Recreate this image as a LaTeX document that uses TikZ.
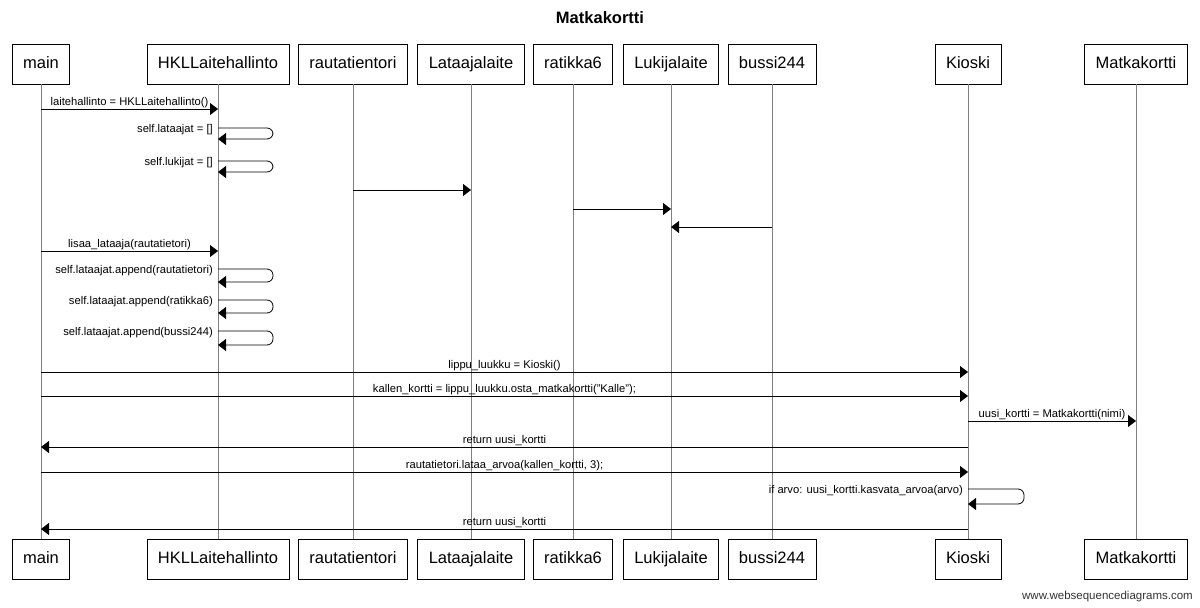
\documentclass[tikz,border=0pt]{standalone}
\usepackage{fontspec}
\setmainfont{Liberation Sans}
\usetikzlibrary{arrows.meta}
\begin{document}
\begin{tikzpicture}[x=1pt,y=-1pt,
  actor/.style={draw=black,line width=0.8pt,fill=white,minimum height=40pt,inner xsep=11pt,
    text height=12pt,text depth=3.5pt,font=\fontsize{16.5}{19}\selectfont},
  lifeline/.style={draw=black!50,line width=0.9pt},
  msg/.style={draw=black,line width=0.8pt,-{Triangle[length=8pt,width=12pt]}},
  lbl/.style={font=\fontsize{11.2}{13}\selectfont,inner sep=1pt},
  selfmsg/.style={msg,rounded corners=6pt}]
\useasboundingbox (0,0) rectangle (1200,608);

% title
\node[font=\fontsize{16.5}{19}\selectfont\bfseries] (title) at (600,18) {Matkakortti};

% participants, top and bottom
\foreach \n/\t/\x in {main/main/41,hkl/HKLLaitehallinto/218,rauta/rautatientori/353,
  lataaja/Lataajalaite/471,ratikka/ratikka6/573,lukija/Lukijalaite/671,
  bussi/bussi244/772,kioski/Kioski/968,matka/Matkakortti/1136}{
  \node[actor] (t-\n) at (\x,64) {\t};
  \node[actor] (b-\n) at (\x,559) {\t};
  \draw[lifeline] (t-\n) -- (b-\n);
}

% messages
\draw[msg] (t-main |- 0,109) -- (t-hkl |- 0,109)
  node[lbl,midway,above] {laitehallinto = HKLLaitehallinto()};
\draw[selfmsg] (t-hkl |- 0,128) -- ++(55,0) -- ++(0,11) -- (t-hkl |- 0,139);
\node[lbl,anchor=east] (s1) at (214,130) {self.lataajat = []};
\draw[selfmsg] (t-hkl |- 0,161) -- ++(55,0) -- ++(0,11) -- (t-hkl |- 0,172);
\node[lbl,anchor=east] (s2) at (214,163) {self.lukijat = []};

\draw[msg] (t-rauta |- 0,190) -- (t-lataaja |- 0,190);
\draw[msg] (t-ratikka |- 0,209) -- (t-lukija |- 0,209);
\draw[msg] (t-bussi |- 0,227) -- (t-lukija |- 0,227);

\draw[msg] (t-main |- 0,251) -- (t-hkl |- 0,251)
  node[lbl,midway,above] {lisaa\_lataaja(rautatietori)};
\draw[selfmsg] (t-hkl |- 0,269) -- ++(55,0) -- ++(0,13) -- (t-hkl |- 0,282);
\node[lbl,anchor=east] (s3) at (214,271) {self.lataajat.append(rautatietori)};
\draw[selfmsg] (t-hkl |- 0,300) -- ++(55,0) -- ++(0,13) -- (t-hkl |- 0,313);
\node[lbl,anchor=east] (s4) at (214,302) {self.lataajat.append(ratikka6)};
\draw[selfmsg] (t-hkl |- 0,331) -- ++(55,0) -- ++(0,14) -- (t-hkl |- 0,345);
\node[lbl,anchor=east] (s5) at (214,333) {self.lataajat.append(bussi244)};

\draw[msg] (t-main |- 0,372) -- (t-kioski |- 0,372)
  node[lbl,midway,above] {lippu\_luukku = Kioski()};
\draw[msg] (t-main |- 0,396) -- (t-kioski |- 0,396)
  node[lbl,midway,above] {kallen\_kortti = lippu\_luukku.osta\_matkakortti("Kalle");};
\draw[msg] (t-kioski |- 0,421) -- (t-matka |- 0,421)
  node[lbl,midway,above] {uusi\_kortti = Matkakortti(nimi)};
\draw[msg] (t-kioski |- 0,447) -- (t-main |- 0,447)
  node[lbl,midway,above] {return uusi\_kortti};
\draw[msg] (t-main |- 0,472) -- (t-kioski |- 0,472)
  node[lbl,midway,above] {rautatietori.lataa\_arvoa(kallen\_kortti, 3);};
\draw[selfmsg] (t-kioski |- 0,489) -- ++(56,0) -- ++(0,15) -- (t-kioski |- 0,504);
\node[lbl,anchor=east] (s6) at (964,491) {if arvo: uusi\_kortti.kasvata\_arvoa(arvo)};
\draw[msg] (t-kioski |- 0,529) -- (t-main |- 0,529)
  node[lbl,midway,above] {return uusi\_kortti};

% footer
\node[font=\fontsize{11.5}{13}\selectfont,text=black!80,anchor=east,inner sep=0pt] (footer)
  at (1193,597) {www.websequencediagrams.com};
\end{tikzpicture}
\end{document}
